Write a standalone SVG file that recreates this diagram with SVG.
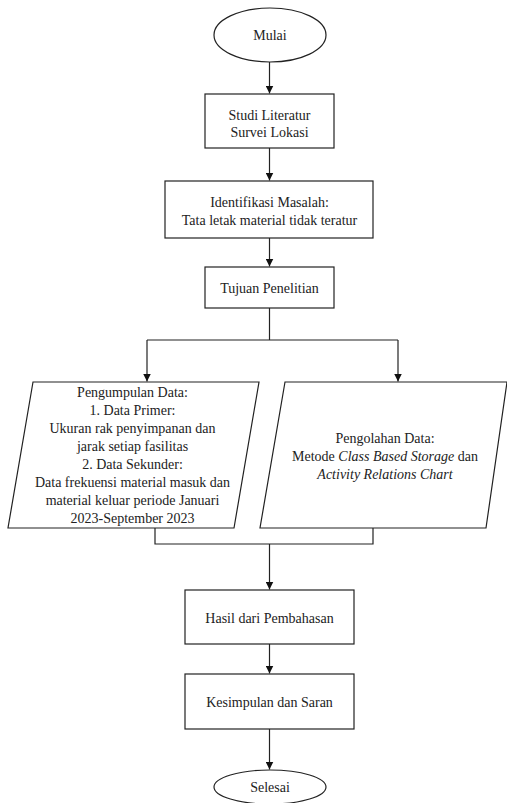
<svg xmlns="http://www.w3.org/2000/svg" width="507" height="803" viewBox="0 0 507 803">
<style>
.s{fill:#fff;stroke:#222;stroke-width:1.2}
.t{font-family:"Liberation Serif","Times New Roman","DejaVu Serif",serif;font-size:14px;fill:#222;text-anchor:middle}
.c{fill:none;stroke:#222;stroke-width:1.2}
</style>
<defs>
<marker id="a" markerWidth="8" markerHeight="8" refX="8" refY="4" orient="auto" markerUnits="userSpaceOnUse">
<path d="M0,0 L8,4 L0,8 z" fill="#111"/>
</marker>
</defs>
<rect width="507" height="803" fill="#fff"/>
<g id="connectors">
<path class="c" d="M269.5,62 V93.5" marker-end="url(#a)"/>
<path class="c" d="M269.5,148 V180.5" marker-end="url(#a)"/>
<path class="c" d="M269.5,238 V266.5" marker-end="url(#a)"/>
<path class="c" d="M269.5,308 V340 M147,340 H398"/>
<path class="c" d="M147,340 V381.5" marker-end="url(#a)"/>
<path class="c" d="M398,340 V381.5" marker-end="url(#a)"/>
<path class="c" d="M155,528 V544 H373 V528"/>
<path class="c" d="M269.5,544 V589.5" marker-end="url(#a)"/>
<path class="c" d="M269.5,644 V673.5" marker-end="url(#a)"/>
<path class="c" d="M269.5,729 V769.5" marker-end="url(#a)"/>
</g>
<g id="mulai">
<ellipse class="s" cx="270" cy="35" rx="56" ry="27"/>
<text class="t" x="270" y="40">Mulai</text>
</g>
<g id="studi">
<rect class="s" x="205" y="94" width="129" height="54"/>
<text class="t" x="269.5" y="120">Studi Literatur</text>
<text class="t" x="269.5" y="137">Survei Lokasi</text>
</g>
<g id="identifikasi">
<rect class="s" x="165" y="181" width="208" height="57"/>
<text class="t" x="269.5" y="207">Identifikasi Masalah:</text>
<text class="t" x="269.5" y="225">Tata letak material tidak teratur</text>
</g>
<g id="tujuan">
<rect class="s" x="205" y="267" width="129" height="41"/>
<text class="t" x="269.5" y="293">Tujuan Penelitian</text>
</g>
<g id="pengumpulan">
<polygon class="s" points="33,382 259,382 234,528 8,528"/>
<text class="t" x="132.5" y="397">Pengumpulan Data:</text>
<text class="t" x="132.5" y="415">1. Data Primer:</text>
<text class="t" x="132.5" y="433">Ukuran rak penyimpanan dan</text>
<text class="t" x="132.5" y="451">jarak setiap fasilitas</text>
<text class="t" x="132.5" y="469">2. Data Sekunder:</text>
<text class="t" x="132.5" y="487">Data frekuensi material masuk dan</text>
<text class="t" x="132.5" y="505">material keluar periode Januari</text>
<text class="t" x="132.5" y="523">2023-September 2023</text>
</g>
<g id="pengolahan">
<polygon class="s" points="285,382 507,382 486,528 260,528"/>
<text class="t" x="385" y="443">Pengolahan Data:</text>
<text class="t" x="385" y="461">Metode <tspan font-style="italic">Class Based Storage</tspan> dan</text>
<text class="t" x="385" y="479" font-style="italic">Activity Relations Chart</text>
</g>
<g id="hasil">
<rect class="s" x="185" y="590" width="169" height="54"/>
<text class="t" x="269.5" y="623">Hasil dari Pembahasan</text>
</g>
<g id="kesimpulan">
<rect class="s" x="185" y="674" width="169" height="55"/>
<text class="t" x="269.5" y="707">Kesimpulan dan Saran</text>
</g>
<g id="selesai">
<ellipse class="s" cx="270" cy="787" rx="56" ry="17"/>
<text class="t" x="270" y="792">Selesai</text>
</g>
</svg>
